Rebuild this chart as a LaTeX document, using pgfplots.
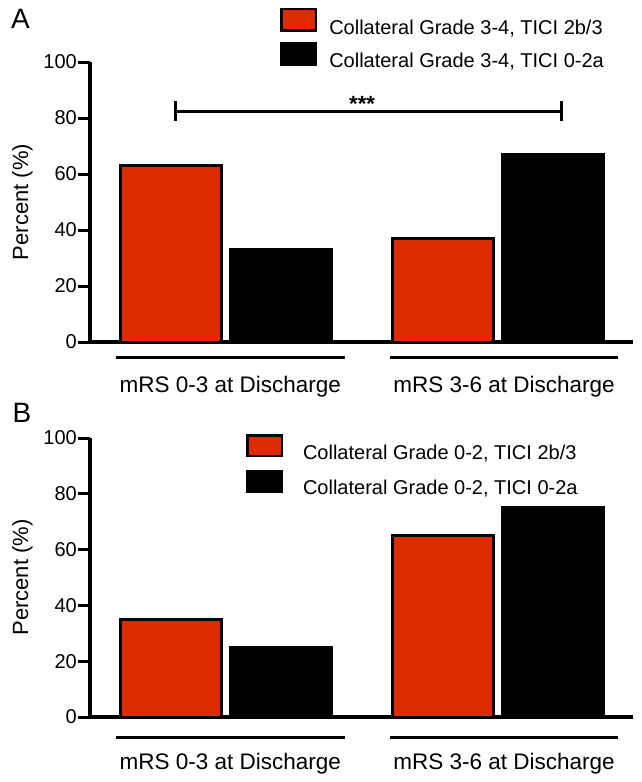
\documentclass[border=0pt]{standalone}
\usepackage{pgfplots}
\pgfplotsset{compat=1.18}
\usepackage{fontspec}
\setmainfont{Liberation Sans}
\definecolor{barred}{RGB}{221,43,0}

\begin{document}
\begin{tikzpicture}
\useasboundingbox (0pt,0pt) rectangle (641pt,-782pt);
\pgfplotsset{
  panel/.style={
    scale only axis, width=543pt,
    xmin=0.5, xmax=2.496, ymin=0, ymax=100,
    axis x line=bottom, axis y line=left,
    axis line style={-, line width=3.5pt},
    xtick=\empty,
    ytick={0,20,...,100},
    tick align=outside,
    major tick length=12pt,
    every tick/.style={black, line width=3pt},
    /pgf/number format/assume math mode=true,
    yticklabel style={font=\fontsize{20}{20}\selectfont, inner sep=1pt},
    ylabel={Percent (\%)},
    ylabel style={at={(axis description cs:-0.105,0.5)}, anchor=south, font=\fontsize{22}{22}\selectfont, inner sep=0pt},
    clip=false,
    legend cell align=left,
  },
  redbar/.style={ybar, bar width=0.371, bar shift=-0.203, fill=barred, draw=black, line width=3pt},
  blackbar/.style={ybar, bar width=0.371, bar shift=0.203, fill=black, draw=black, line width=3pt},
}

\node[font=\fontsize{28}{28}\selectfont] at (20.5pt,-18.5pt) {A};
\node[font=\fontsize{28}{28}\selectfont] at (22pt,-413pt) {B};

% Panel A
\begin{axis}[panel, height=280pt, at={(90pt,-342pt)}, anchor=south west,
  legend image code/.code={\draw[#1, line width=2.5pt] (0pt,-3pt) rectangle (34.5pt,18.5pt);},
  legend style={at={(axis description cs:0.35,1.194)}, anchor=north west, draw=none, fill=none,
    inner sep=0pt, row sep=6pt, font=\fontsize{20}{20}\selectfont,
    nodes={inner sep=0pt},
    /tikz/every odd column/.append style={column sep=12pt}}]
\addplot[redbar] coordinates {(1,63) (2,37)};
\addplot[blackbar] coordinates {(1,33) (2,67)};
\legend{{Collateral Grade 3-4, TICI 2b/3}, {Collateral Grade 3-4, TICI 0-2a}}
\draw[line width=3pt] (axis cs:0.816,82.5) -- (axis cs:2.235,82.5);
\draw[line width=3pt] (axis cs:0.816,79) -- (axis cs:0.816,86);
\draw[line width=3pt] (axis cs:2.235,79) -- (axis cs:2.235,86);
\node[anchor=base, font=\bfseries\fontsize{22}{22}\selectfont] at (axis cs:1.5,82.5) {***};
\draw[line width=3pt] (axis cs:0.595,-5.4) -- (axis cs:1.437,-5.4);
\draw[line width=3pt] (axis cs:1.603,-5.4) -- (axis cs:2.441,-5.4);
\node[font=\fontsize{22.5}{22.5}\selectfont] at (axis cs:1.016,-16.1) {mRS 0-3 at Discharge};
\node[font=\fontsize{22.5}{22.5}\selectfont] at (axis cs:2.022,-16.1) {mRS 3-6 at Discharge};
\end{axis}

% Panel B
\begin{axis}[panel, height=279pt, at={(90pt,-717pt)}, anchor=south west,
  legend image code/.code={\draw[#1, line width=2.5pt] (0pt,-3pt) rectangle (34.5pt,17.5pt);},
  legend style={at={(axis description cs:0.287,1.014)}, anchor=north west, draw=none, fill=none,
    inner sep=0pt, row sep=8.5pt, font=\fontsize{20}{20}\selectfont,
    nodes={inner sep=0pt},
    /tikz/every odd column/.append style={column sep=20pt}}]
\addplot[redbar] coordinates {(1,35) (2,65)};
\addplot[blackbar] coordinates {(1,25) (2,75)};
\legend{{Collateral Grade 0-2, TICI 2b/3}, {Collateral Grade 0-2, TICI 0-2a}}
\draw[line width=3pt] (axis cs:0.595,-7.2) -- (axis cs:1.437,-7.2);
\draw[line width=3pt] (axis cs:1.603,-7.2) -- (axis cs:2.441,-7.2);
\node[font=\fontsize{22.5}{22.5}\selectfont] at (axis cs:1.016,-16.8) {mRS 0-3 at Discharge};
\node[font=\fontsize{22.5}{22.5}\selectfont] at (axis cs:2.022,-16.8) {mRS 3-6 at Discharge};
\end{axis}
\end{tikzpicture}
\end{document}
